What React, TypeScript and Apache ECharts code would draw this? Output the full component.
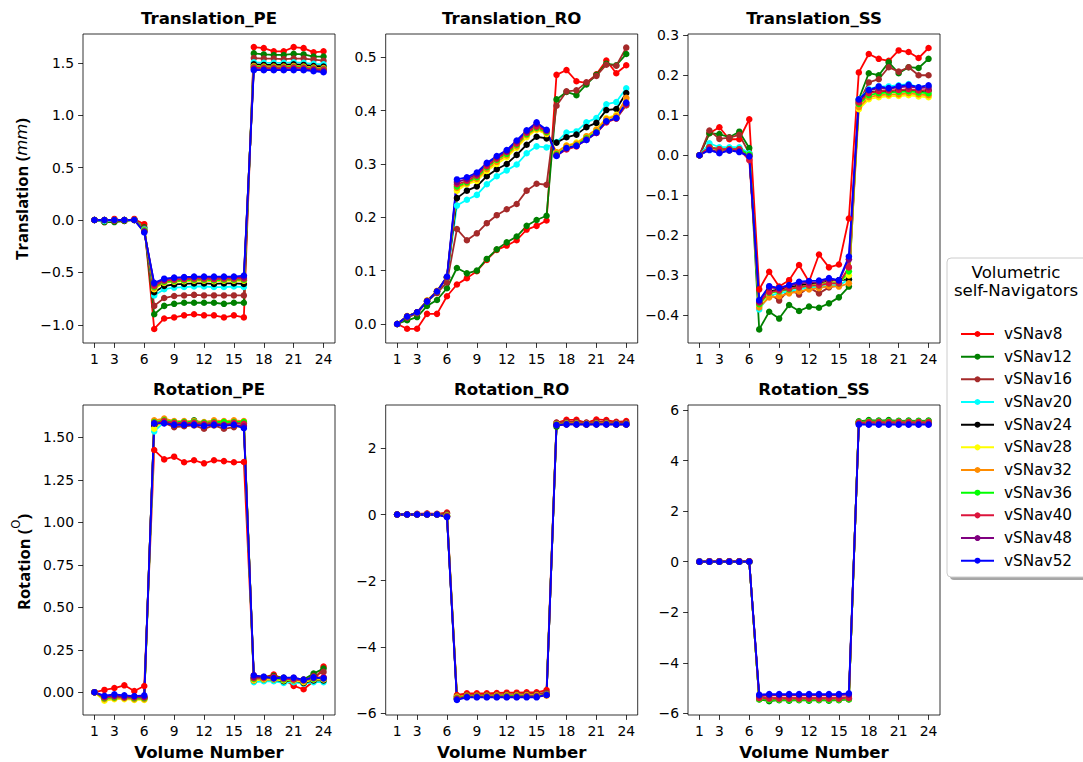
import React, { useEffect, useRef } from 'react';
import * as echarts from 'echarts';

const VOLUME = [1, 2, 3, 4, 5, 6, 7, 8, 9, 10, 11, 12, 13, 14, 15, 16, 17, 18, 19, 20, 21, 22, 23, 24];
const X_TICKS = [1, 3, 6, 9, 12, 15, 18, 21, 24];

const NAVIGATORS = ['vSNav8', 'vSNav12', 'vSNav16', 'vSNav20', 'vSNav24', 'vSNav28', 'vSNav32', 'vSNav36', 'vSNav40', 'vSNav48', 'vSNav52'];
const COLORS = ['#ff0000', '#008000', '#a52a2a', '#00ffff', '#000000', '#ffff00', '#ff8c00', '#00ff00', '#dc143c', '#800080', '#0000ff'];

// Translation_PE (mm), one row per navigator
const TRANS_PE = [
  [0, -0.02, 0.01, -0.01, 0.01, -0.04, -1.04, -0.94, -0.93, -0.91, -0.9, -0.91, -0.91, -0.93, -0.91, -0.93, 1.65, 1.64, 1.61, 1.61, 1.65, 1.64, 1.6, 1.61],
  [0, -0.02, -0.02, -0.01, 0, -0.07, -0.9, -0.82, -0.8, -0.79, -0.79, -0.79, -0.79, -0.8, -0.79, -0.79, 1.59, 1.58, 1.575, 1.575, 1.585, 1.58, 1.56, 1.56],
  [0, -0.01, -0.01, 0, 0, -0.08, -0.82, -0.745, -0.725, -0.72, -0.715, -0.72, -0.72, -0.72, -0.72, -0.72, 1.545, 1.54, 1.54, 1.535, 1.54, 1.54, 1.53, 1.52],
  [0, -0.01, 0, 0, 0, -0.09, -0.72, -0.66, -0.645, -0.64, -0.635, -0.635, -0.64, -0.64, -0.635, -0.64, 1.505, 1.5, 1.5, 1.5, 1.505, 1.5, 1.49, 1.485],
  [0, 0, 0, 0, 0, -0.1, -0.69, -0.63, -0.615, -0.61, -0.605, -0.605, -0.61, -0.605, -0.605, -0.61, 1.485, 1.48, 1.48, 1.48, 1.485, 1.48, 1.47, 1.465],
  [0, 0, 0, 0, 0, -0.1, -0.66, -0.6, -0.59, -0.585, -0.58, -0.58, -0.585, -0.58, -0.58, -0.58, 1.465, 1.46, 1.46, 1.46, 1.465, 1.46, 1.45, 1.445],
  [0, 0, 0, 0, 0, -0.1, -0.65, -0.595, -0.585, -0.58, -0.575, -0.575, -0.58, -0.575, -0.575, -0.575, 1.47, 1.465, 1.465, 1.465, 1.47, 1.465, 1.455, 1.45],
  [0, 0, 0, 0, 0, -0.1, -0.64, -0.59, -0.58, -0.575, -0.57, -0.57, -0.575, -0.57, -0.57, -0.57, 1.46, 1.455, 1.455, 1.455, 1.46, 1.455, 1.445, 1.44],
  [0, 0, 0, 0, 0, -0.11, -0.63, -0.58, -0.57, -0.565, -0.56, -0.56, -0.565, -0.56, -0.56, -0.56, 1.455, 1.45, 1.45, 1.45, 1.455, 1.45, 1.44, 1.435],
  [0, 0, 0, 0, 0, -0.11, -0.61, -0.57, -0.555, -0.55, -0.545, -0.545, -0.55, -0.545, -0.545, -0.545, 1.44, 1.435, 1.435, 1.435, 1.44, 1.435, 1.43, 1.42],
  [0, 0, 0, 0, 0, -0.12, -0.6, -0.56, -0.55, -0.545, -0.54, -0.54, -0.54, -0.54, -0.54, -0.53, 1.43, 1.43, 1.43, 1.43, 1.43, 1.43, 1.42, 1.41],
];

// Translation_RO (mm)
const TRANS_RO = [
  [0, -0.009, -0.009, 0.019, 0.019, 0.052, 0.074, 0.086, 0.099, 0.12, 0.139, 0.147, 0.157, 0.177, 0.184, 0.194, 0.467, 0.476, 0.455, 0.452, 0.468, 0.494, 0.47, 0.485],
  [0, 0.007, 0.013, 0.034, 0.045, 0.067, 0.105, 0.095, 0.1, 0.122, 0.14, 0.153, 0.164, 0.184, 0.195, 0.203, 0.421, 0.435, 0.429, 0.449, 0.467, 0.488, 0.485, 0.506],
  [0, 0.012, 0.02, 0.042, 0.058, 0.078, 0.178, 0.157, 0.17, 0.189, 0.204, 0.215, 0.225, 0.25, 0.263, 0.261, 0.409, 0.436, 0.438, 0.453, 0.465, 0.486, 0.484, 0.518],
  [0, 0.014, 0.022, 0.043, 0.061, 0.087, 0.222, 0.233, 0.242, 0.262, 0.277, 0.288, 0.299, 0.32, 0.333, 0.331, 0.341, 0.359, 0.361, 0.378, 0.386, 0.412, 0.416, 0.442],
  [0, 0.014, 0.022, 0.043, 0.061, 0.087, 0.236, 0.25, 0.258, 0.277, 0.29, 0.3, 0.317, 0.336, 0.351, 0.348, 0.34, 0.35, 0.355, 0.369, 0.377, 0.401, 0.403, 0.433],
  [0, 0.015, 0.022, 0.044, 0.062, 0.088, 0.25, 0.262, 0.268, 0.287, 0.3, 0.312, 0.33, 0.35, 0.364, 0.356, 0.322, 0.335, 0.34, 0.352, 0.365, 0.386, 0.392, 0.422],
  [0, 0.015, 0.022, 0.044, 0.062, 0.088, 0.255, 0.264, 0.272, 0.29, 0.304, 0.316, 0.333, 0.354, 0.366, 0.358, 0.322, 0.334, 0.338, 0.352, 0.364, 0.384, 0.39, 0.424],
  [0, 0.014, 0.022, 0.043, 0.061, 0.087, 0.258, 0.266, 0.275, 0.294, 0.308, 0.319, 0.336, 0.356, 0.368, 0.36, 0.318, 0.33, 0.335, 0.348, 0.36, 0.38, 0.386, 0.41],
  [0, 0.014, 0.022, 0.043, 0.061, 0.087, 0.262, 0.268, 0.278, 0.296, 0.31, 0.322, 0.338, 0.358, 0.37, 0.362, 0.316, 0.327, 0.333, 0.346, 0.358, 0.378, 0.385, 0.41],
  [0, 0.014, 0.022, 0.043, 0.061, 0.088, 0.266, 0.272, 0.281, 0.3, 0.313, 0.324, 0.342, 0.361, 0.375, 0.363, 0.316, 0.329, 0.334, 0.345, 0.358, 0.379, 0.386, 0.413],
  [0, 0.014, 0.022, 0.042, 0.061, 0.089, 0.271, 0.275, 0.284, 0.302, 0.315, 0.326, 0.344, 0.363, 0.378, 0.364, 0.315, 0.33, 0.334, 0.345, 0.359, 0.38, 0.386, 0.415],
];

// Translation_SS (mm)
const TRANS_SS = [
  [0, 0.055, 0.07, 0.04, 0.04, 0.09, -0.335, -0.291, -0.328, -0.312, -0.274, -0.316, -0.248, -0.28, -0.273, -0.158, 0.207, 0.253, 0.241, 0.236, 0.262, 0.258, 0.243, 0.268],
  [0, 0.055, 0.053, 0.045, 0.059, 0.018, -0.435, -0.391, -0.408, -0.374, -0.389, -0.378, -0.381, -0.37, -0.355, -0.328, 0.14, 0.205, 0.2, 0.232, 0.205, 0.22, 0.218, 0.241],
  [0, 0.062, 0.041, 0.044, 0.051, 0.005, -0.37, -0.345, -0.363, -0.335, -0.348, -0.33, -0.345, -0.33, -0.325, -0.28, 0.13, 0.182, 0.19, 0.22, 0.209, 0.22, 0.2, 0.2],
  [0, 0.03, 0.02, 0.02, 0.02, 0.005, -0.385, -0.35, -0.345, -0.34, -0.335, -0.33, -0.33, -0.325, -0.325, -0.31, 0.14, 0.165, 0.172, 0.172, 0.175, 0.178, 0.17, 0.172],
  [0, 0.02, 0.015, 0.015, 0.015, 0, -0.37, -0.34, -0.335, -0.33, -0.325, -0.322, -0.32, -0.315, -0.312, -0.31, 0.135, 0.158, 0.16, 0.16, 0.162, 0.162, 0.16, 0.162],
  [0, 0.018, 0.012, 0.012, 0.012, 0, -0.375, -0.345, -0.34, -0.332, -0.33, -0.325, -0.322, -0.318, -0.316, -0.3, 0.115, 0.14, 0.145, 0.148, 0.148, 0.15, 0.147, 0.145],
  [0, 0.02, 0.015, 0.015, 0.015, 0, -0.38, -0.355, -0.352, -0.345, -0.34, -0.335, -0.332, -0.327, -0.328, -0.32, 0.12, 0.145, 0.15, 0.152, 0.152, 0.155, 0.152, 0.15],
  [0, 0.02, 0.015, 0.015, 0.015, 0.002, -0.372, -0.343, -0.34, -0.335, -0.33, -0.326, -0.325, -0.32, -0.32, -0.29, 0.128, 0.15, 0.155, 0.157, 0.158, 0.16, 0.157, 0.155],
  [0, 0.02, 0.015, 0.015, 0.015, -0.012, -0.368, -0.342, -0.338, -0.333, -0.33, -0.325, -0.325, -0.32, -0.32, -0.28, 0.132, 0.155, 0.16, 0.162, 0.163, 0.165, 0.162, 0.163],
  [0, 0.014, 0.008, 0.012, 0.01, -0.002, -0.365, -0.33, -0.333, -0.326, -0.32, -0.318, -0.317, -0.31, -0.314, -0.26, 0.138, 0.162, 0.168, 0.166, 0.17, 0.172, 0.168, 0.17],
  [0, 0.013, 0.005, 0.012, 0.008, -0.003, -0.362, -0.327, -0.331, -0.324, -0.316, -0.314, -0.313, -0.307, -0.312, -0.253, 0.14, 0.163, 0.172, 0.168, 0.173, 0.176, 0.17, 0.175],
];

// Rotation_PE (degrees)
const ROT_PE = [
  [0, 0.014, 0.025, 0.041, 0.008, 0.037, 1.425, 1.37, 1.386, 1.353, 1.365, 1.347, 1.365, 1.36, 1.353, 1.355, 0.1, 0.088, 0.104, 0.076, 0.038, 0.018, 0.065, 0.151],
  [0, -0.03, -0.02, -0.03, -0.03, -0.03, 1.59, 1.59, 1.58, 1.58, 1.6, 1.58, 1.58, 1.575, 1.585, 1.59, 0.085, 0.09, 0.095, 0.085, 0.08, 0.075, 0.11, 0.14],
  [0, -0.03, -0.02, -0.03, -0.03, -0.03, 1.58, 1.585, 1.56, 1.565, 1.57, 1.55, 1.57, 1.55, 1.56, 1.57, 0.08, 0.085, 0.09, 0.08, 0.075, 0.07, 0.095, 0.12],
  [0, -0.04, -0.03, -0.035, -0.04, -0.04, 1.535, 1.59, 1.585, 1.585, 1.585, 1.58, 1.585, 1.58, 1.585, 1.58, 0.06, 0.065, 0.065, 0.055, 0.06, 0.05, 0.06, 0.06],
  [0, -0.035, -0.025, -0.03, -0.035, -0.035, 1.57, 1.59, 1.585, 1.585, 1.585, 1.58, 1.585, 1.58, 1.585, 1.58, 0.07, 0.075, 0.075, 0.065, 0.07, 0.055, 0.07, 0.07],
  [0, -0.05, -0.04, -0.04, -0.045, -0.045, 1.55, 1.6, 1.59, 1.59, 1.59, 1.585, 1.59, 1.585, 1.59, 1.585, 0.07, 0.075, 0.075, 0.07, 0.07, 0.06, 0.075, 0.075],
  [0, -0.04, -0.035, -0.035, -0.04, -0.04, 1.6, 1.61, 1.595, 1.595, 1.595, 1.59, 1.6, 1.595, 1.6, 1.595, 0.075, 0.08, 0.08, 0.075, 0.075, 0.065, 0.08, 0.08],
  [0, -0.035, -0.03, -0.03, -0.035, -0.035, 1.59, 1.6, 1.59, 1.59, 1.59, 1.585, 1.59, 1.59, 1.59, 1.59, 0.08, 0.085, 0.085, 0.075, 0.075, 0.07, 0.08, 0.085],
  [0, -0.03, -0.025, -0.03, -0.03, -0.03, 1.585, 1.595, 1.585, 1.585, 1.585, 1.58, 1.585, 1.575, 1.585, 1.58, 0.085, 0.085, 0.09, 0.08, 0.075, 0.07, 0.085, 0.09],
  [0, -0.025, -0.02, -0.025, -0.025, -0.025, 1.58, 1.585, 1.575, 1.575, 1.575, 1.57, 1.575, 1.57, 1.575, 1.565, 0.09, 0.09, 0.085, 0.085, 0.085, 0.075, 0.085, 0.085],
  [0, -0.02, -0.012, -0.018, -0.022, -0.018, 1.582, 1.582, 1.573, 1.573, 1.573, 1.567, 1.573, 1.567, 1.573, 1.553, 0.1, 0.092, 0.082, 0.086, 0.086, 0.073, 0.088, 0.082],
];

// Rotation_RO (degrees)
const ROT_RO = [
  [0, 0.01, 0.02, 0.03, 0.02, 0.06, -5.45, -5.4, -5.4, -5.4, -5.39, -5.38, -5.38, -5.37, -5.37, -5.3, 2.77, 2.86, 2.86, 2.77, 2.87, 2.85, 2.8, 2.82],
  [0, 0, 0.01, 0.01, 0.01, 0.02, -5.5, -5.46, -5.46, -5.45, -5.45, -5.44, -5.44, -5.43, -5.43, -5.4, 2.65, 2.77, 2.77, 2.75, 2.77, 2.76, 2.75, 2.76],
  [0, 0, 0.01, 0.02, 0.01, 0.03, -5.5, -5.45, -5.45, -5.45, -5.44, -5.43, -5.43, -5.42, -5.42, -5.38, 2.78, 2.8, 2.8, 2.78, 2.8, 2.8, 2.78, 2.78],
  [0, 0, 0, 0, 0, -0.04, -5.55, -5.5, -5.5, -5.5, -5.5, -5.49, -5.49, -5.48, -5.48, -5.43, 2.72, 2.74, 2.74, 2.73, 2.74, 2.74, 2.73, 2.73],
  [0, 0, 0, 0, 0, -0.05, -5.56, -5.5, -5.5, -5.5, -5.5, -5.5, -5.49, -5.49, -5.49, -5.44, 2.71, 2.73, 2.73, 2.72, 2.73, 2.73, 2.72, 2.72],
  [0, 0, 0, 0, 0, -0.03, -5.52, -5.48, -5.48, -5.48, -5.47, -5.47, -5.47, -5.46, -5.46, -5.44, 2.72, 2.74, 2.74, 2.73, 2.74, 2.74, 2.73, 2.73],
  [0, 0, 0, 0, 0, -0.03, -5.5, -5.47, -5.47, -5.47, -5.47, -5.46, -5.46, -5.46, -5.46, -5.47, 2.73, 2.75, 2.75, 2.74, 2.75, 2.75, 2.74, 2.74],
  [0, 0, 0, 0, 0, -0.04, -5.54, -5.49, -5.49, -5.49, -5.49, -5.48, -5.48, -5.48, -5.48, -5.44, 2.72, 2.74, 2.74, 2.73, 2.74, 2.74, 2.73, 2.73],
  [0, 0, 0, 0, 0, -0.05, -5.56, -5.5, -5.5, -5.5, -5.5, -5.5, -5.5, -5.49, -5.49, -5.44, 2.71, 2.73, 2.73, 2.72, 2.73, 2.73, 2.72, 2.72],
  [0, 0, 0, 0, 0, -0.06, -5.58, -5.51, -5.51, -5.51, -5.51, -5.51, -5.51, -5.5, -5.5, -5.45, 2.7, 2.72, 2.72, 2.72, 2.72, 2.72, 2.72, 2.72],
  [0, 0, 0, 0, 0, -0.08, -5.6, -5.52, -5.52, -5.52, -5.52, -5.52, -5.52, -5.52, -5.52, -5.45, 2.7, 2.72, 2.72, 2.72, 2.72, 2.72, 2.72, 2.72],
];

// Rotation_SS (degrees)
const ROT_SS = [
  [0, 0.02, 0.02, 0.02, 0.02, 0.02, -5.35, -5.38, -5.38, -5.38, -5.38, -5.38, -5.38, -5.38, -5.38, -5.36, 5.5, 5.52, 5.52, 5.52, 5.52, 5.52, 5.52, 5.52],
  [0, 0, 0, 0, 0, 0, -5.45, -5.52, -5.48, -5.5, -5.48, -5.5, -5.48, -5.5, -5.48, -5.45, 5.55, 5.6, 5.58, 5.6, 5.57, 5.58, 5.57, 5.58],
  [0, 0.01, 0.01, 0.01, 0.01, 0.01, -5.42, -5.46, -5.44, -5.45, -5.44, -5.45, -5.44, -5.45, -5.44, -5.42, 5.52, 5.56, 5.55, 5.56, 5.55, 5.55, 5.54, 5.55],
  [0, 0, 0, 0, 0, 0, -5.4, -5.42, -5.42, -5.42, -5.42, -5.42, -5.42, -5.42, -5.42, -5.4, 5.48, 5.5, 5.5, 5.5, 5.5, 5.5, 5.5, 5.5],
  [0, 0, 0, 0, 0, 0, -5.41, -5.43, -5.43, -5.43, -5.43, -5.43, -5.43, -5.43, -5.43, -5.41, 5.49, 5.51, 5.51, 5.51, 5.51, 5.51, 5.51, 5.51],
  [0, 0, 0, 0, 0, 0, -5.42, -5.44, -5.44, -5.44, -5.44, -5.44, -5.44, -5.44, -5.44, -5.42, 5.5, 5.52, 5.52, 5.52, 5.52, 5.52, 5.52, 5.52],
  [0, 0, 0, 0, 0, 0, -5.43, -5.45, -5.45, -5.45, -5.45, -5.45, -5.45, -5.45, -5.45, -5.43, 5.51, 5.53, 5.53, 5.53, 5.53, 5.53, 5.53, 5.53],
  [0, 0, 0, 0, 0, 0, -5.44, -5.47, -5.46, -5.47, -5.46, -5.47, -5.46, -5.47, -5.46, -5.44, 5.53, 5.56, 5.55, 5.56, 5.55, 5.55, 5.55, 5.55],
  [0, 0.01, 0.01, 0.01, 0.01, 0.01, -5.4, -5.42, -5.42, -5.42, -5.42, -5.42, -5.42, -5.42, -5.42, -5.4, 5.5, 5.52, 5.52, 5.52, 5.52, 5.52, 5.52, 5.52],
  [0, 0, 0, 0, 0, 0, -5.3, -5.28, -5.28, -5.28, -5.28, -5.28, -5.28, -5.28, -5.28, -5.26, 5.44, 5.44, 5.44, 5.44, 5.44, 5.44, 5.44, 5.44],
  [0, 0, 0, 0, 0, 0, -5.26, -5.24, -5.24, -5.24, -5.24, -5.24, -5.24, -5.24, -5.24, -5.21, 5.42, 5.42, 5.42, 5.42, 5.42, 5.42, 5.42, 5.42],
];

const TITLES = ['Translation_PE', 'Translation_RO', 'Translation_SS', 'Rotation_PE', 'Rotation_RO', 'Rotation_SS'];
const PANEL_DATA = [TRANS_PE, TRANS_RO, TRANS_SS, ROT_PE, ROT_RO, ROT_SS];
const Y_TICKS = [
  [-1.0, -0.5, 0.0, 0.5, 1.0, 1.5],
  [0.0, 0.1, 0.2, 0.3, 0.4, 0.5],
  [-0.4, -0.3, -0.2, -0.1, 0.0, 0.1, 0.2, 0.3],
  [0.0, 0.25, 0.5, 0.75, 1.0, 1.25, 1.5],
  [-6, -4, -2, 0, 2],
  [-6, -4, -2, 0, 2, 4, 6],
];
const Y_DECIMALS = [1, 1, 1, 2, 0, 0];
const Y_RANGE = [
  [-1.174, 1.775],
  [-0.0356, 0.5436],
  [-0.469, 0.303],
  [-0.1335, 1.69],
  [-6.054, 3.307],
  [-6.066, 6.198],
];

const LEGEND_TITLE = 'Volumetric\nself-Navigators';

const FONT = '"DejaVu Sans", sans-serif';
const COL_LEFT = [83, 385.7, 688];
const ROW_TOP = [34, 405];
const GRID_W = 252;
const GRID_H = [309, 310];

function fmt(v: number, d: number) {
  const s = Math.abs(v).toFixed(d);
  return (v < -1e-9 ? '\u2212' : '') + s;
}

export default function App() {
  const ref = useRef<HTMLDivElement>(null);
  useEffect(() => {
    if (!ref.current) return;
    const chart = echarts.init(ref.current, null, { renderer: 'svg' });
    const grids: any[] = [];
    const xAxes: any[] = [];
    const yAxes: any[] = [];
    const series: any[] = [];
    const graphics: any[] = [];
    for (let p = 0; p < 6; p++) {
      const row = Math.floor(p / 3);
      const col = p % 3;
      grids.push({
        left: COL_LEFT[col], top: ROW_TOP[row], width: GRID_W, height: GRID_H[row],
        show: true, borderColor: '#000', borderWidth: 0.8, backgroundColor: '#fff',
      });
      xAxes.push({
        type: 'value', gridIndex: p, min: -0.15, max: 25.15,
        axisLine: { show: false, onZero: false },
        splitLine: { show: false },
        axisTick: { show: true, inside: false, length: 4.9, lineStyle: { color: '#000', width: 0.8 }, customValues: X_TICKS },
        axisLabel: { show: true, margin: 9, color: '#000', fontSize: 13.9, fontFamily: FONT, customValues: X_TICKS, formatter: (v: number) => String(v) },
        name: row === 1 ? 'Volume Number' : '',
        nameLocation: 'middle', nameGap: 29,
        nameTextStyle: { fontSize: 16.6, fontWeight: 'bold', color: '#000', fontFamily: FONT },
      });
      yAxes.push({
        type: 'value', gridIndex: p, min: Y_RANGE[p][0], max: Y_RANGE[p][1],
        axisLine: { show: false, onZero: false },
        splitLine: { show: false },
        axisTick: { show: true, inside: false, length: 4.9, lineStyle: { color: '#000', width: 0.8 }, customValues: Y_TICKS[p] },
        axisLabel: { show: true, margin: 9, color: '#000', fontSize: 13.9, fontFamily: FONT, customValues: Y_TICKS[p], formatter: (v: number) => fmt(v, Y_DECIMALS[p]) },
      });
      graphics.push({
        type: 'text', x: COL_LEFT[col] + GRID_W / 2, y: ROW_TOP[row] - 16,
        style: { text: TITLES[p], fontSize: 16.6, fontWeight: 'bold', fontFamily: FONT, fill: '#000', textAlign: 'center', textVerticalAlign: 'middle' },
      });
      const rows = PANEL_DATA[p];
      for (let s = 0; s < NAVIGATORS.length; s++) {
        series.push({
          type: 'line', name: NAVIGATORS[s], xAxisIndex: p, yAxisIndex: p,
          data: VOLUME.map((v, i) => [v, rows[s][i]]),
          symbol: 'circle', symbolSize: 6.5, showSymbol: true,
          lineStyle: { color: COLORS[s], width: 1.8 },
          itemStyle: { color: COLORS[s] },
          emphasis: { disabled: true },
          silent: true,
          z: 2,
        });
      }
    }
    // y axis titles
    graphics.push({
      type: 'text', x: 21, y: 189, rotation: Math.PI / 2,
      style: {
        text: '{b|Translation (}{i|mm}{b|)}',
        textAlign: 'center', textVerticalAlign: 'middle',
        rich: {
          b: { fontSize: 16.5, fontWeight: 'bold', fontFamily: '"Open Sans", sans-serif', fill: '#000' },
          i: { fontSize: 16.5, fontStyle: 'italic', fontFamily: '"DejaVu Sans", sans-serif', fill: '#000' },
        },
      },
    });
    graphics.push({
      type: 'text', x: 21, y: 562, rotation: Math.PI / 2,
      style: {
        text: '{b|Rotation (}{s|O}{b|)}',
        textAlign: 'center', textVerticalAlign: 'middle',
        rich: {
          b: { fontSize: 16.5, fontWeight: 'bold', fontFamily: '"Open Sans", sans-serif', fill: '#000', lineHeight: 22, verticalAlign: 'bottom' },
          s: { fontSize: 11.5, fontFamily: '"DejaVu Sans", sans-serif', fill: '#000', lineHeight: 22, verticalAlign: 'top' },
        },
      },
    });
    // legend frame with shadow
    graphics.push({
      type: 'rect', z: 5, shape: { x: 950, y: 261, width: 160, height: 319, r: 4 },
      style: { fill: 'rgba(0,0,0,0.35)' },
    });
    graphics.push({
      type: 'rect', z: 6, shape: { x: 947, y: 258, width: 160, height: 319, r: 4 },
      style: { fill: '#fff', stroke: '#cccccc', lineWidth: 1 },
    });
    graphics.push({
      type: 'text', z: 7, x: 1016, y: 263,
      style: { text: LEGEND_TITLE, fontSize: 16.6, fontFamily: FONT, fill: '#000', textAlign: 'center', lineHeight: 18.5 },
    });

    chart.setOption({
      animation: false,
      backgroundColor: '#fff',
      grid: grids,
      xAxis: xAxes,
      yAxis: yAxes,
      series,
      graphic: graphics,
      legend: {
        data: NAVIGATORS,
        orient: 'vertical',
        left: 960, top: 326,
        padding: 0,
        itemWidth: 33, itemHeight: 7.5, itemGap: 6.67,
        z: 10,
        selectedMode: false,
        textStyle: { fontSize: 15.3, fontFamily: FONT, color: '#000', lineHeight: 16, padding: [0, 0, 0, 5] },
      },
    });
    return () => chart.dispose();
  }, []);
  return <div ref={ref} style={{ position: 'absolute', left: 0, top: 0, width: 1083, height: 762 }} />;
}
